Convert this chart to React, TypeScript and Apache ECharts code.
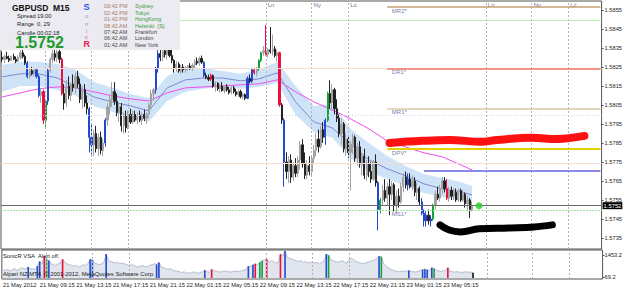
import React, { useEffect, useRef } from "react";
import * as echarts from "echarts";

const SLOT_COUNT = 262;
const SLOTS = Array.from({ length: SLOT_COUNT }, (_, i) => String(i));

const TIME_LABELS = [
  "21 May 2012", "21 May 09:15", "21 May 13:15", "21 May 17:15", "21 May 21:15",
  "22 May 01:15", "22 May 05:15", "22 May 09:15", "22 May 13:15", "22 May 17:15",
  "22 May 21:15", "23 May 01:15", "23 May 05:15",
];
const Y_TICKS = [1.5735, 1.5745, 1.5755, 1.5765, 1.5775, 1.5785, 1.5795, 1.5805, 1.5815, 1.5825, 1.5835, 1.5845, 1.5855];
const VOL_TICKS = [69.2, 1453.2];

// [open, high, low, close] per 15-minute bar
const OHLC = [
  [1.5830,1.5833,1.58275,1.5829],[1.5829,1.58315,1.5827,1.58305],[1.58305,1.5833,1.5829,1.58295],[1.58295,1.5831,1.58275,1.58285],
  [1.58285,1.5831,1.5828,1.58305],[1.58305,1.5832,1.58285,1.5829],[1.5829,1.58305,1.5827,1.5828],[1.5828,1.5831,1.58275,1.583],
  [1.583,1.5834,1.5829,1.58325],[1.58325,1.5835,1.58295,1.58305],[1.58305,1.58315,1.5826,1.5827],[1.5827,1.5828,1.5819,1.582],
  [1.582,1.5824,1.5819,1.5823],[1.5823,1.5825,1.58205,1.58215],[1.58215,1.5824,1.582,1.58235],[1.58235,1.58245,1.5819,1.582],
  [1.582,1.5821,1.5809,1.581],[1.581,1.5814,1.5806,1.5812],[1.5812,1.5813,1.5795,1.5797],[1.5797,1.5808,1.57935,1.5807],
  [1.5807,1.5824,1.5805,1.5823],[1.5823,1.583,1.5822,1.5829],[1.5829,1.5834,1.5827,1.5832],[1.5832,1.5834,1.5828,1.583],
  [1.583,1.5834,1.58275,1.5833],[1.5833,1.58345,1.5827,1.5829],[1.5829,1.583,1.581,1.5811],[1.5811,1.5816,1.58025,1.5806],
  [1.5806,1.5818,1.5804,1.5815],[1.5815,1.582,1.5808,1.581],[1.581,1.5817,1.5807,1.5816],[1.5816,1.5821,1.5812,1.5814],
  [1.5814,1.5822,1.5811,1.582],[1.582,1.5823,1.5814,1.5816],[1.5816,1.5819,1.5806,1.5808],[1.5808,1.5815,1.5803,1.5813],
  [1.5813,1.5816,1.5804,1.5806],[1.5806,1.581,1.58,1.5803],[1.5803,1.5804,1.578,1.5788],[1.5788,1.5795,1.5779,1.5784],
  [1.5784,1.5792,1.5778,1.579],[1.579,1.5794,1.578,1.5782],[1.5782,1.579,1.5778,1.5788],[1.5788,1.5791,1.5779,1.5781],
  [1.5781,1.5787,1.5778,1.5785],[1.5785,1.5798,1.5783,1.5797],[1.5797,1.5806,1.5794,1.5804],[1.5804,1.581,1.58,1.5808],
  [1.5808,1.5817,1.5804,1.5812],[1.5812,1.5817,1.5805,1.5807],[1.5807,1.5811,1.5799,1.5801],[1.5801,1.5806,1.5796,1.5804],
  [1.5804,1.5806,1.5791,1.5794],[1.5794,1.5801,1.579,1.5799],[1.5799,1.5802,1.57905,1.5793],[1.5793,1.5802,1.5792,1.58],
  [1.58,1.5803,1.5795,1.5796],[1.5796,1.5802,1.5795,1.58],[1.58,1.5802,1.5796,1.5797],[1.5797,1.5801,1.5795,1.57995],
  [1.57995,1.5802,1.5796,1.5797],[1.5797,1.5801,1.57945,1.58],[1.58,1.58025,1.57965,1.5798],[1.5798,1.5801,1.5795,1.58],
  [1.58,1.5806,1.5798,1.5805],[1.5805,1.5813,1.5803,1.5811],[1.5811,1.5814,1.5807,1.5813],[1.5813,1.5825,1.5811,1.5824],
  [1.5824,1.5834,1.5822,1.5832],[1.5832,1.58345,1.5828,1.583],[1.583,1.5835,1.5828,1.58335],[1.58335,1.5835,1.583,1.58315],
  [1.58315,1.5835,1.5829,1.5834],[1.5834,1.58355,1.583,1.5831],[1.5831,1.58345,1.5827,1.58285],[1.58285,1.5829,1.5822,1.5824],
  [1.5824,1.5828,1.58225,1.58265],[1.58265,1.58275,1.5822,1.5823],[1.5823,1.5826,1.58215,1.5825],[1.5825,1.58265,1.5822,1.58235],
  [1.58235,1.58255,1.5822,1.58245],[1.58245,1.5826,1.5823,1.58255],[1.58255,1.5827,1.58235,1.5824],[1.5824,1.5827,1.5823,1.5826],
  [1.5826,1.5829,1.58245,1.5828],[1.5828,1.583,1.5826,1.5827],[1.5827,1.58305,1.58255,1.58295],[1.58295,1.5831,1.58265,1.58275],
  [1.58275,1.5828,1.58195,1.58205],[1.58205,1.5822,1.58185,1.58195],[1.58195,1.5821,1.58175,1.58185],[1.58185,1.58215,1.58175,1.58205],
  [1.58205,1.5821,1.5814,1.5815],[1.5815,1.58175,1.5812,1.58165],[1.58165,1.5817,1.58125,1.58135],[1.58135,1.5816,1.58115,1.5815],
  [1.5815,1.5817,1.5812,1.58125],[1.58125,1.58155,1.5811,1.58145],[1.58145,1.5816,1.5812,1.5813],[1.5813,1.58145,1.58105,1.58115],
  [1.58115,1.5815,1.58105,1.5814],[1.5814,1.5815,1.5811,1.5812],[1.5812,1.58135,1.58095,1.58105],[1.58105,1.5813,1.5809,1.5812],
  [1.5812,1.5813,1.58085,1.58095],[1.58095,1.58115,1.5808,1.58105],[1.58105,1.5811,1.58075,1.58085],[1.58085,1.582,1.5808,1.5819],
  [1.5819,1.5821,1.58165,1.58175],[1.58175,1.58245,1.58165,1.58235],[1.58235,1.58245,1.5821,1.5822],[1.5822,1.5825,1.582,1.5824],
  [1.5824,1.5829,1.5823,1.58285],[1.58285,1.5833,1.58275,1.58325],[1.58325,1.5836,1.5831,1.58335],[1.58335,1.5847,1.5831,1.58315],
  [1.58315,1.5835,1.583,1.5834],[1.5834,1.5846,1.5832,1.5833],[1.5833,1.5842,1.5831,1.58345],[1.58345,1.5836,1.583,1.5831],
  [1.5831,1.5834,1.5828,1.58325],[1.58325,1.5833,1.5804,1.5805],[1.5805,1.5806,1.5795,1.5797],[1.5797,1.5798,1.5762,1.5775],
  [1.5775,1.578,1.5766,1.577],[1.577,1.5778,1.5764,1.5776],[1.5776,1.5779,1.5764,1.5767],[1.5767,1.5775,1.5765,1.5773],
  [1.5773,1.5777,1.5767,1.5769],[1.5769,1.5778,1.5767,1.5776],[1.5776,1.5786,1.5771,1.5784],[1.5784,1.5787,1.5772,1.5774],
  [1.5774,1.578,1.5766,1.5768],[1.5768,1.5776,1.5766,1.5773],[1.5773,1.5778,1.5768,1.577],[1.577,1.5778,1.5768,1.5777],
  [1.5777,1.5784,1.5774,1.5781],[1.5781,1.579,1.5778,1.5787],[1.5787,1.5792,1.578,1.5783],[1.5783,1.5794,1.5782,1.5792],
  [1.5792,1.5796,1.5785,1.5788],[1.5788,1.5798,1.5784,1.5797],[1.5797,1.5812,1.5796,1.5811],[1.5811,1.5818,1.5803,1.5806],
  [1.5806,1.5816,1.5802,1.5813],[1.5813,1.5814,1.58,1.5803],[1.5803,1.5808,1.5796,1.5798],[1.5798,1.58,1.5788,1.579],
  [1.579,1.5798,1.5784,1.5795],[1.5795,1.5796,1.578,1.5782],[1.5782,1.579,1.5778,1.5787],[1.5787,1.5789,1.5777,1.578],
  [1.578,1.5786,1.576,1.5784],[1.5784,1.579,1.5779,1.5788],[1.5788,1.5789,1.5775,1.5777],[1.5777,1.5785,1.5773,1.5783],
  [1.5783,1.5786,1.5772,1.5774],[1.5774,1.578,1.5768,1.5778],[1.5778,1.5782,1.5766,1.5768],[1.5768,1.5776,1.5765,1.5774],
  [1.5774,1.5778,1.5767,1.577],[1.577,1.5775,1.5764,1.5766],[1.5766,1.5776,1.5765,1.5775],[1.5775,1.5779,1.5762,1.5764],
  [1.5764,1.5765,1.5739,1.575],[1.575,1.5756,1.5748,1.5755],[1.5755,1.5763,1.5752,1.576],[1.576,1.5766,1.5754,1.5756],
  [1.5756,1.5764,1.5752,1.5762],[1.5762,1.5766,1.5747,1.5758],[1.5758,1.5765,1.5755,1.5763],[1.5763,1.5764,1.5749,1.5752],
  [1.5752,1.576,1.5748,1.5757],[1.5757,1.5761,1.5751,1.5754],[1.5754,1.5764,1.5753,1.5762],[1.5762,1.5769,1.5759,1.5767],
  [1.5767,1.577,1.5761,1.5763],[1.5763,1.5769,1.576,1.5766],[1.5766,1.5769,1.5761,1.5762],[1.5762,1.5768,1.576,1.5765],
  [1.5765,1.5767,1.5757,1.5759],[1.5759,1.5764,1.5755,1.5761],[1.5761,1.5762,1.5752,1.5754],[1.5754,1.5756,1.5747,1.5748],
  [1.5748,1.575,1.5741,1.5744],[1.5744,1.5749,1.5741,1.5747],[1.5747,1.575,1.5742,1.5744],[1.5744,1.5747,1.5741,1.5745],
  [1.5745,1.5753,1.5744,1.5752],[1.5752,1.576,1.575,1.5758],[1.5758,1.5762,1.5755,1.5756],[1.5756,1.5763,1.5754,1.5761],
  [1.5761,1.5767,1.5758,1.5765],[1.5765,1.5767,1.5759,1.5761],[1.5761,1.5766,1.5755,1.5756],[1.5756,1.5762,1.5754,1.576],
  [1.576,1.5762,1.5755,1.5757],[1.5757,1.5761,1.5755,1.5759],[1.5759,1.5761,1.5754,1.5755],[1.5755,1.5761,1.5754,1.576],
  [1.576,1.5761,1.5754,1.5755],[1.5755,1.576,1.5754,1.5758],[1.5758,1.5759,1.5751,1.5753],[1.5753,1.5757,1.5749,1.5755],
  [1.5755,1.5756,1.57455,1.575],[1.575,1.5754,1.5749,1.5752],
];

const VOLUME = [
  520,480,560,450,500,620,480,540,660,600,580,700,560,600,520,760,1060,900,1390,1190,
  1120,900,850,800,900,950,1190,1000,900,850,800,750,800,700,750,850,800,900,1190,1150,
  950,900,850,900,1000,1520,1100,1050,1000,950,1000,900,950,900,850,800,850,800,750,700,
  750,800,700,750,800,850,900,860,990,700,650,600,550,600,500,450,450,400,350,400,
  300,350,300,400,350,300,350,400,500,400,350,550,450,450,400,380,420,450,400,380,
  400,450,420,400,450,500,550,750,700,850,900,850,1000,1100,1150,1200,1000,1100,1050,950,
  1000,1520,1400,1720,1300,1250,1200,1150,1100,1050,1100,1000,1050,950,1000,1000,950,1000,900,1000,
  1050,1520,1450,1150,1100,1050,1000,1050,1100,1000,950,1200,1250,1150,1050,1000,950,900,950,1000,
  1050,1100,1150,1200,1390,1350,900,750,650,550,500,450,420,400,430,450,430,480,420,400,
  380,420,480,530,560,520,450,660,600,500,450,420,450,480,660,420,400,380,400,380,
  350,380,400,360,380,330,
];

const BLUE_BARS = [11,15,16,20,38,39,45,67,68,88,107,109,123,141,164,177,183,184,185,187];
const RED_BARS = [18,26,91,110,115,121,194];
const GREEN_BARS = [19,112,113,142,165,188];
const LAST_VOLUME_BAR = 205;

const LINE_IDX = [0,8,16,24,32,40,48,56,64,72,80,88,96,104,112,120,128,136,144,152,160,168,176,184,192,200,205];
const SONIC_MID = [1.58198,1.58214,1.58214,1.58192,1.58145,1.58092,1.58066,1.58045,1.58019,1.5814,1.58182,1.58192,1.58192,1.58177,1.58187,1.58219,1.58066,1.57961,1.57929,1.57845,1.57761,1.57714,1.57677,1.57635,1.57608,1.57592,1.57577];
const SONIC_HIGH = [1.58261,1.58277,1.58277,1.58266,1.58235,1.58171,1.5814,1.58108,1.58087,1.58203,1.5825,1.58245,1.58229,1.58214,1.58235,1.58277,1.5815,1.58045,1.58056,1.57924,1.5785,1.57782,1.57729,1.57687,1.57666,1.57645,1.57624];
const SONIC_LOW = [1.58119,1.5815,1.5815,1.58129,1.58098,1.58045,1.58014,1.57982,1.57961,1.58071,1.58119,1.58135,1.58145,1.58135,1.58145,1.58166,1.57998,1.57908,1.57877,1.57771,1.57698,1.57661,1.57624,1.57587,1.57566,1.5755,1.57535];
const SLOW_EMA = [1.58092,1.58114,1.58135,1.58145,1.5814,1.58119,1.58098,1.58082,1.58071,1.58114,1.5814,1.58145,1.5815,1.58156,1.58161,1.58182,1.58119,1.58066,1.58024,1.57977,1.57924,1.57861,1.57829,1.57798,1.57777,1.57735,1.57708];

const LEVEL_NAMES = ["MR2*", "DR1*", "MR1*", "DPV*", "MS1*"];
const LEVEL_PRICES = [1.58566, 1.58242, 1.58032, 1.57819, 1.57498];
const LEVEL_START = 168;
const DAY_HIGH = 1.58498;
const FAINT_LEVELS = [1.58242, 1.57745];
const DOTTED_LEVEL = 1.57998;
const PIVOT_BLUE = 1.57703;
const PIVOT_BLUE_START = 184;
const LAST_PRICE = 1.5752;
const LAST_PRICE_TEXT = "1.5752";

const SESSION_IDX = [19, 39, 55, 115, 135, 151, 211, 231, 247];
const SESSION_LABEL_IDX = [115, 135, 151, 211, 231, 247];
const SESSION_NAMES = ["Ln", "Ny", "Lc", "Ln", "Ny", "Lc"];
const SESSION_LABEL_PRICE = 1.5859;

const RED_STROKE_IDX = [169, 183, 195, 209, 216, 231, 242, 254];
const RED_STROKE = [1.5785, 1.57861, 1.57866, 1.57856, 1.57866, 1.57877, 1.57871, 1.57887];
const BLACK_STROKE_IDX = [191, 195, 200, 208, 221, 232, 240];
const BLACK_STROKE = [1.57419, 1.57392, 1.57382, 1.57398, 1.57403, 1.57408, 1.57419];
const MARKER_IDX = 208;

const SESSION_TIMES = ["03:42 PM", "02:42 PM", "01:42 PM", "08:42 AM", "07:42 AM", "06:42 AM", "01:42 AM"];
const SESSION_CITIES = ["Sydney", "Tokyo", "HongKong", "Helsinki  (S)", "Frankfurt", "London", "New York"];

const FONT = '"Liberation Sans", Arial, sans-serif';
const BLUE = "#2448d0";
const RED = "#ec103e";
const GREEN = "#17a13d";

function tagColor(i: number): string | null {
  if (BLUE_BARS.includes(i)) return BLUE;
  if (RED_BARS.includes(i)) return RED;
  if (GREEN_BARS.includes(i)) return GREEN;
  return null;
}

function txt(x: number, y: number, text: string, size: number, fill: string, weight = "normal") {
  return {
    type: "text",
    x,
    y,
    z: 101,
    silent: true,
    style: { text, fill, font: `${weight} ${size}px ${FONT}`, textAlign: "left", textVerticalAlign: "middle" },
  };
}

export default function App() {
  const ref = useRef<HTMLDivElement>(null);
  useEffect(() => {
    if (!ref.current) return;
    const chart = echarts.init(ref.current, undefined, { renderer: "svg" });

    const candleData = OHLC.map(([o, h, l, c], i) => {
      const col = tagColor(i);
      const item: any = { value: [o, c, l, h] };
      if (col) item.itemStyle = { color: col, color0: col, borderColor: col, borderColor0: col };
      return item;
    });

    const volColored = VOLUME.map((v, i) => {
      const col = i === LAST_VOLUME_BAR ? "#111111" : tagColor(i);
      return col ? { value: v, itemStyle: { color: col } } : "-";
    });

    const pairs = (vals: number[]) => LINE_IDX.map((idx, k) => [idx, vals[k]]);
    const bandDiff = LINE_IDX.map((idx, k) => [idx, SONIC_HIGH[k] - SONIC_LOW[k]]);

    const levelStyles = [
      { color: "#c9a271", width: 1.5 },
      { color: "#ec7a68", width: 1.5 },
      { color: "#d8c8a6", width: 1.5 },
      { color: "#e4d000", width: 2 },
    ];

    const mainMarkLines: any[] = [];
    SESSION_IDX.forEach((idx) => {
      mainMarkLines.push({ xAxis: idx, lineStyle: { color: "#b2b2b2", width: 1, type: [2, 2] } });
    });
    mainMarkLines.push({ yAxis: DAY_HIGH, lineStyle: { color: "#b8f0b2", width: 1, type: "solid" } });
    FAINT_LEVELS.forEach((p) => mainMarkLines.push({ yAxis: p, lineStyle: { color: "#f6dcd0", width: 1, type: "solid" } }));
    mainMarkLines.push({ yAxis: DOTTED_LEVEL, lineStyle: { color: "#d2d6e6", width: 1, type: [1, 2] } });
    levelStyles.forEach((st, k) => {
      mainMarkLines.push([
        { coord: [LEVEL_START, LEVEL_PRICES[k]], lineStyle: { color: st.color, width: st.width, type: "solid" } },
        { coord: [SLOT_COUNT - 1, LEVEL_PRICES[k]] },
      ]);
    });
    mainMarkLines.push({ yAxis: LEVEL_PRICES[4], lineStyle: { color: "#9ee49a", width: 1, type: [2, 1] } });
    mainMarkLines.push([
      { coord: [PIVOT_BLUE_START, PIVOT_BLUE], lineStyle: { color: "#8a8ae4", width: 2, type: "solid" } },
      { coord: [SLOT_COUNT - 1, PIVOT_BLUE] },
    ]);
    mainMarkLines.push({
      yAxis: LAST_PRICE,
      lineStyle: { color: "#6a6a6a", width: 1, type: "solid" },
      label: {
        show: true,
        position: "end",
        formatter: LAST_PRICE_TEXT,
        backgroundColor: "#000",
        color: "#fff",
        fontSize: 5.8,
        fontFamily: FONT,
        padding: [1, 1, 0, 1],
        distance: 1,
      },
    });

    const option: any = {
      animation: false,
      backgroundColor: "#ffffff",
      grid: [
        { left: 1, right: 21, top: 1, height: 248, show: true, borderColor: "#555", borderWidth: 1, backgroundColor: "#fff" },
        { left: 1, right: 21, top: 250, height: 29, show: true, borderColor: "#555", borderWidth: 1, backgroundColor: "#fff" },
      ],
      xAxis: [
        {
          type: "category", gridIndex: 0, data: SLOTS,
          axisLine: { show: false }, axisTick: { show: false }, axisLabel: { show: false }, splitLine: { show: false },
        },
        {
          type: "category", gridIndex: 1, data: SLOTS,
          axisLine: { show: false }, axisTick: { show: false }, splitLine: { show: false },
          axisLabel: {
            interval: 15, align: "left", fontSize: 5.8, color: "#222", margin: 3, fontFamily: FONT,
            formatter: (_v: string, idx: number) => (idx % 16 === 0 && idx / 16 < TIME_LABELS.length ? TIME_LABELS[idx / 16] : ""),
          },
        },
      ],
      yAxis: [
        {
          type: "value", gridIndex: 0, position: "right", min: 1.57292, max: 1.58597,
          splitLine: { show: false }, axisLine: { show: false },
          axisTick: { show: true, customValues: Y_TICKS, length: 2, lineStyle: { color: "#555" } },
          axisLabel: { customValues: Y_TICKS, formatter: (v: number) => v.toFixed(4), fontSize: 5.7, color: "#222", margin: 3, fontFamily: FONT },
        },
        {
          type: "value", gridIndex: 1, position: "right", min: -62.6, max: 1782,
          splitLine: { show: false }, axisLine: { show: false },
          axisTick: { show: true, customValues: VOL_TICKS, length: 2, lineStyle: { color: "#555" } },
          axisLabel: { customValues: VOL_TICKS, formatter: (v: number) => v.toFixed(1), fontSize: 5.7, color: "#222", margin: 2, fontFamily: FONT },
        },
      ],
      series: [
        {
          type: "line", xAxisIndex: 0, yAxisIndex: 0, data: pairs(SONIC_LOW), stack: "band",
          symbol: "none", lineStyle: { opacity: 0 }, silent: true, z: 1,
        },
        {
          type: "line", xAxisIndex: 0, yAxisIndex: 0, data: bandDiff, stack: "band",
          symbol: "none", lineStyle: { opacity: 0 }, areaStyle: { color: "#cfe3f8", opacity: 1 }, silent: true, z: 1,
        },
        {
          type: "line", xAxisIndex: 0, yAxisIndex: 0, data: pairs(SLOW_EMA),
          symbol: "none", lineStyle: { color: "#f04cf0", width: 1 }, silent: true, z: 2,
          markLine: { silent: true, precision: 6, symbol: ["none", "none"], label: { show: false }, data: mainMarkLines },
        },
        {
          type: "line", xAxisIndex: 0, yAxisIndex: 0, data: pairs(SONIC_MID),
          symbol: "none", lineStyle: { color: "#7d88cf", width: 1 }, silent: true, z: 2,
        },
        {
          type: "candlestick", xAxisIndex: 0, yAxisIndex: 0, data: candleData, barWidth: 1.7, z: 3,
          itemStyle: { color: "#a2a2a2", color0: "#222222", borderColor: "#a2a2a2", borderColor0: "#222222", borderWidth: 1 },
        },
        {
          type: "scatter", xAxisIndex: 0, yAxisIndex: 0, symbolSize: 0, silent: true, z: 4,
          data: LEVEL_NAMES.map((n, k) => ({ name: n, value: [LEVEL_START + 2, LEVEL_PRICES[k]] })),
          label: { show: true, formatter: "{b}", position: [0, 1], align: "left", verticalAlign: "top", fontSize: 6, color: "#4a5896", fontFamily: FONT },
        },
        {
          type: "scatter", xAxisIndex: 0, yAxisIndex: 0, symbolSize: 0, silent: true, z: 4,
          data: SESSION_LABEL_IDX.map((idx, k) => ({ name: SESSION_NAMES[k], value: [idx, SESSION_LABEL_PRICE] })),
          label: { show: true, formatter: "{b}", position: [2, 0], align: "left", verticalAlign: "top", fontSize: 6, color: "#3c3c6c", fontFamily: FONT },
        },
        {
          type: "line", xAxisIndex: 0, yAxisIndex: 0, data: RED_STROKE_IDX.map((idx, k) => [idx, RED_STROKE[k]]),
          symbol: "none", smooth: 0.4, silent: true, z: 6,
          lineStyle: { color: "#ff1111", width: 8, cap: "round", join: "round" },
        },
        {
          type: "line", xAxisIndex: 0, yAxisIndex: 0, data: BLACK_STROKE_IDX.map((idx, k) => [idx, BLACK_STROKE[k]]),
          symbol: "none", smooth: 0.4, silent: true, z: 6,
          lineStyle: { color: "#000000", width: 7, cap: "round", join: "round" },
        },
        {
          type: "scatter", xAxisIndex: 0, yAxisIndex: 0, data: [[MARKER_IDX, LAST_PRICE]],
          symbolSize: 7, itemStyle: { color: "#22cc22" }, silent: true, z: 7,
        },
        {
          type: "line", xAxisIndex: 1, yAxisIndex: 1, data: VOLUME,
          symbol: "none", lineStyle: { color: "#a8b0c2", width: 0.8 }, areaStyle: { color: "#e1e5ed", opacity: 1 }, silent: true, z: 1,
          markLine: {
            silent: true, symbol: ["none", "none"], label: { show: false },
            data: SESSION_IDX.map((idx) => ({ xAxis: idx, lineStyle: { color: "#b2b2b2", width: 1, type: [2, 2] } })),
          },
        },
        {
          type: "bar", xAxisIndex: 1, yAxisIndex: 1, data: volColored, barWidth: 1.6, silent: true, z: 2,
        },
      ],
      graphic: {
        elements: [
          { type: "rect", z: 100, silent: true, shape: { x: 0, y: 0, width: 180, height: 50 }, style: { fill: "#ebebf1" } },
          txt(12, 8, "GBPUSD", 8.5, "#111", "bold"),
          txt(53, 8, "M15", 8.5, "#111", "bold"),
          txt(17, 15.5, "Spread", 5.8, "#222"),
          txt(37, 15.5, "19.00", 5.8, "#222"),
          txt(17, 24, "Range", 5.8, "#222"),
          txt(37, 24, "0, 29", 5.8, "#222"),
          txt(17, 32.5, "Candle", 5.8, "#222"),
          txt(37, 32.5, "00:02:18", 5.8, "#222"),
          txt(15, 42.5, "1.5752", 16, "#1f9a2e", "bold"),
          txt(83.5, 7, "S", 9, "#2f55ee", "bold"),
          txt(85, 15.5, "o", 6, "#a08ae0"),
          txt(85, 23.5, "n", 6, "#c27ad0"),
          txt(86, 30.5, "i", 6, "#d86cb0"),
          txt(85, 37, "c", 6, "#e25e96"),
          txt(83.5, 44, "R", 9, "#ee1a4a", "bold"),
          ...SESSION_TIMES.map((t, k) => txt(104, [6, 12.5, 19, 25.5, 32, 38.3, 44.5][k], t, 5.5, k < 4 ? "#a67c62" : "#444")),
          ...SESSION_CITIES.map((c, k) => txt(135, [6, 12.5, 19, 25.5, 32, 38.3, 44.5][k], c, 5.5, k < 4 ? "#3a9c3a" : "#444")),
          txt(3, 256, "SonicR VSA", 5.8, "#222"),
          txt(38, 256, "Alert off.", 5.8, "#222"),
          txt(3, 273.5, "Alpari NZ MT4, \u00a9 2001-2012, MetaQuotes Software Corp.", 5.9, "#1a1a1a"),
        ],
      },
    };

    chart.setOption(option);
    return () => chart.dispose();
  }, []);

  return <div ref={ref} style={{ position: "fixed", left: 0, top: 0, width: 625, height: 290, background: "#fff" }} />;
}
